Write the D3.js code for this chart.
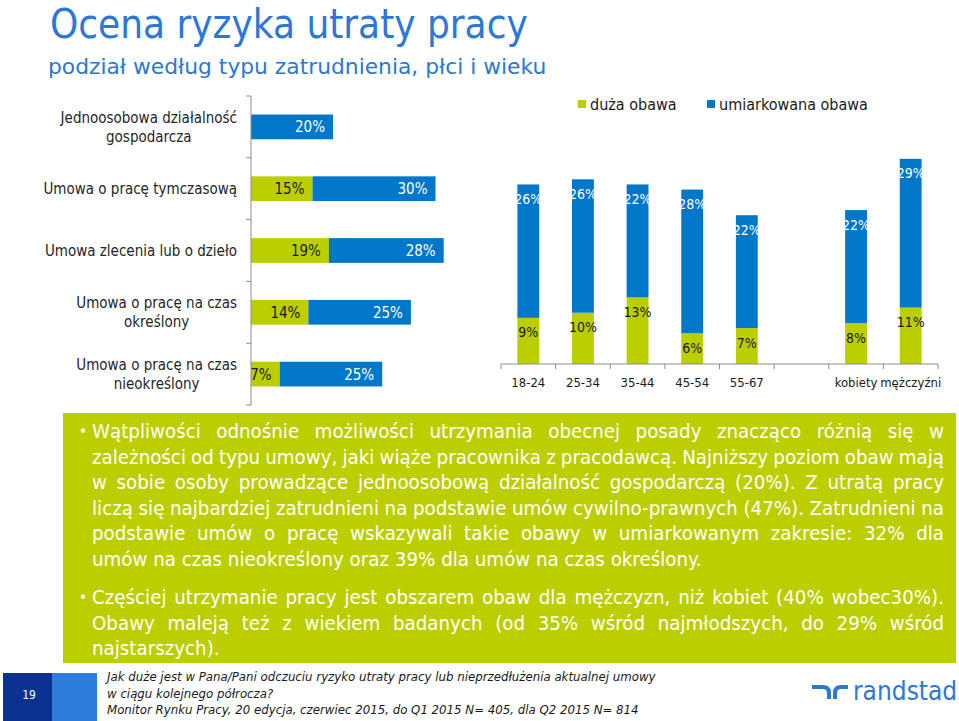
<!DOCTYPE html>
<html>
<head>
<meta charset="utf-8">
<script src="https://cdn.jsdelivr.net/npm/d3@7"></script>
<style>
  html, body { margin: 0; padding: 0; background: #fff; }
  svg { display: block; }
  text { font-family: "DejaVu Sans Condensed", "DejaVu Sans", sans-serif; font-stretch: condensed; }
  text.reg { font-family: "DejaVu Sans", sans-serif; font-stretch: normal; }
</style>
</head>
<body>
<svg id="chart" width="959" height="721"></svg>
<script>
// ---------- DATA ----------
const titleText = "Ocena ryzyka utraty pracy";
const subtitleText = "podział według typu zatrudnienia, płci i wieku";
const seriesNames = ["duża obawa", "umiarkowana obawa"];

const contractCats = [
  "Jednoosobowa działalność\ngospodarcza",
  "Umowa o pracę tymczasową",
  "Umowa zlecenia lub o dzieło",
  "Umowa o pracę na czas\nokreślony",
  "Umowa o pracę na czas\nnieokreślony"
];
const contractHigh = [0, 15, 19, 14, 7];
const contractModerate = [20, 30, 28, 25, 25];

const groupCats = ["18-24", "25-34", "35-44", "45-54", "55-67", " ", "kobiety", "mężczyźni"];
const groupHigh = [9, 10, 13, 6, 7, null, 8, 11];
const groupModerate = [26, 26, 22, 28, 22, null, 22, 29];

const paragraphs = [
  [
    "Wątpliwości odnośnie możliwości utrzymania obecnej posady znacząco różnią się w",
    "zależności od typu umowy, jaki wiąże pracownika z pracodawcą. Najniższy poziom obaw mają",
    "w sobie osoby prowadzące jednoosobową działalność gospodarczą (20%). Z utratą pracy",
    "liczą się najbardziej zatrudnieni na podstawie umów cywilno-prawnych (47%). Zatrudnieni na",
    "podstawie umów o pracę wskazywali takie obawy w umiarkowanym zakresie: 32% dla",
    "umów na czas nieokreślony oraz 39% dla umów na czas określony."
  ],
  [
    "Częściej utrzymanie pracy jest obszarem obaw dla mężczyzn, niż kobiet (40% wobec30%).",
    "Obawy maleją też z wiekiem badanych (od 35% wśród najmłodszych, do 29% wśród",
    "najstarszych)."
  ]
];
const footnoteLines = [
  "Jak duże jest w Pana/Pani odczuciu ryzyko utraty pracy lub nieprzedłużenia aktualnej umowy",
  "w ciągu kolejnego półrocza?",
  "Monitor Rynku Pracy, 20 edycja, czerwiec 2015, do Q1 2015 N= 405, dla Q2 2015 N= 814"
];
const pageNumber = "19";
const brandName = "randstad";

// ---------- STYLE ----------
const GREEN = "#BBCE00";
const BLUE = "#0077C8";
const TITLE_BLUE = "#2B78D6";
const AXIS = "#8C8C8C";

const svg = d3.select("#chart");

// Title
svg.append("text").attr("x", 50).attr("y", 38)
  .attr("fill", TITLE_BLUE).attr("font-size", 40).text(titleText);
svg.append("text").attr("class", "reg").attr("x", 48).attr("y", 74)
  .attr("fill", TITLE_BLUE).attr("font-size", 21.8).text(subtitleText);

// ---------- LEFT: horizontal stacked bars ----------
const yL = d3.scaleBand().domain(contractCats).range([96, 405]).paddingInner(0.6).paddingOuter(0.3);
const xL = d3.scaleLinear().domain([0, 50]).range([251, 456]);
const gL = svg.append("g");

contractCats.forEach((c, i) => {
  const y0 = yL(c), h = yL.bandwidth();
  const hi = contractHigh[i], mo = contractModerate[i];
  if (hi > 0) {
    gL.append("rect").attr("x", xL(0)).attr("y", y0).attr("width", xL(hi) - xL(0)).attr("height", h).attr("fill", GREEN);
    gL.append("text").attr("x", xL(hi) - 8).attr("y", y0 + h / 2).attr("dy", "0.36em")
      .attr("text-anchor", "end").attr("font-size", 15).attr("fill", "#1a1a1a").text(hi + "%");
  }
  gL.append("rect").attr("x", xL(hi)).attr("y", y0).attr("width", xL(hi + mo) - xL(hi)).attr("height", h).attr("fill", BLUE);
  gL.append("text").attr("x", xL(hi + mo) - 8).attr("y", y0 + h / 2).attr("dy", "0.36em")
    .attr("text-anchor", "end").attr("font-size", 15).attr("fill", "#fff").text(mo + "%");

  // category label (lines centred, block right-aligned)
  const lines = c.split("\n");
  const lg = gL.append("g");
  const texts = lines.map((ln, k) => lg.append("text")
    .attr("y", y0 + h / 2 + (k - (lines.length - 1) / 2) * 19).attr("dy", "0.36em")
    .attr("text-anchor", "middle").attr("font-size", 15).attr("fill", "#262626").text(ln));
  const maxW = d3.max(texts, t => t.node().getComputedTextLength());
  texts.forEach(t => t.attr("x", 237 - maxW / 2));
});
// axis
const r0 = yL.range()[0], stepL = yL.step();
gL.append("line").attr("x1", xL(0)).attr("x2", xL(0)).attr("y1", r0).attr("y2", r0 + stepL * contractCats.length).attr("stroke", AXIS);
d3.range(contractCats.length + 1).forEach(i => {
  gL.append("line").attr("x1", xL(0) - 5).attr("x2", xL(0)).attr("y1", r0 + i * stepL).attr("y2", r0 + i * stepL).attr("stroke", AXIS);
});

// ---------- RIGHT: vertical stacked columns ----------
const xR = d3.scaleBand().domain(groupCats).range([501, 938]).paddingInner(0.6).paddingOuter(0.3);
const yR = d3.scaleLinear().domain([0, 45]).range([364, 364 - 45 * 5.13]);
const gR = svg.append("g");
groupCats.forEach((c, i) => {
  const hi = groupHigh[i], mo = groupModerate[i];
  if (hi == null) return;
  const x0 = xR(c), w = xR.bandwidth(), cx = x0 + w / 2;
  gR.append("rect").attr("x", x0).attr("y", yR(hi)).attr("width", w).attr("height", yR(0) - yR(hi)).attr("fill", GREEN);
  gR.append("rect").attr("x", x0).attr("y", yR(hi + mo)).attr("width", w).attr("height", yR(hi) - yR(hi + mo)).attr("fill", BLUE);
  gR.append("text").attr("x", cx).attr("y", yR(hi) + 14.5).attr("dy", "0.36em").attr("text-anchor", "middle")
    .attr("font-size", 14).attr("fill", "#1a1a1a").text(hi + "%");
  gR.append("text").attr("x", cx).attr("y", yR(hi + mo) + 14.5).attr("dy", "0.36em").attr("text-anchor", "middle")
    .attr("font-size", 14).attr("fill", "#fff").text(mo + "%");
});
const c0 = xR.range()[0], stepR = xR.step();
gR.append("line").attr("x1", c0).attr("x2", c0 + stepR * groupCats.length).attr("y1", yR(0)).attr("y2", yR(0)).attr("stroke", AXIS);
d3.range(groupCats.length + 1).forEach(i => {
  gR.append("line").attr("x1", c0 + i * stepR).attr("x2", c0 + i * stepR).attr("y1", yR(0)).attr("y2", yR(0) + 5).attr("stroke", AXIS);
});
groupCats.forEach(c => {
  gR.append("text").attr("x", xR(c) + xR.bandwidth() / 2).attr("y", 382).attr("dy", "0.36em")
    .attr("text-anchor", "middle").attr("font-size", 13).attr("fill", "#1a1a1a").text(c.trim());
});

// legend
const legendPos = [578, 707];
seriesNames.forEach((n, i) => {
  svg.append("rect").attr("x", legendPos[i]).attr("y", 100).attr("width", 8).attr("height", 8).attr("fill", i === 0 ? GREEN : BLUE);
  svg.append("text").attr("x", legendPos[i] + 12).attr("y", 104).attr("dy", "0.36em")
    .attr("font-size", 16).attr("fill", "#1a1a1a").text(n);
});

// ---------- TEXT BOX ----------
svg.append("rect").attr("x", 63).attr("y", 413).attr("width", 893).attr("height", 250).attr("fill", GREEN);
const tx0 = 92, tx1 = 944, lh = 25.5;
let by = 438;
paragraphs.forEach((para, pi) => {
  svg.append("text").attr("x", 79).attr("y", by - 1).attr("font-size", 15).attr("fill", "#fff").text("•");
  para.forEach((ln, li) => {
    const t = svg.append("text").attr("x", tx0).attr("y", by).attr("font-size", 20.3).attr("fill", "#fff").text(ln);
    if (li < para.length - 1) {
      const nat = t.node().getComputedTextLength();
      const spaces = (ln.match(/ /g) || []).length;
      t.style("word-spacing", ((tx1 - tx0 - nat) / spaces) + "px");
    }
    by += lh;
  });
  by += 13;
});

// ---------- FOOTER ----------
svg.append("rect").attr("x", 3).attr("y", 673).attr("width", 49).attr("height", 48).attr("fill", "#0D3191");
svg.append("rect").attr("x", 52).attr("y", 673).attr("width", 45).attr("height", 48).attr("fill", "#2D7EDC");
svg.append("text").attr("x", 29).attr("y", 695).attr("dy", "0.36em").attr("text-anchor", "middle")
  .attr("font-size", 12).attr("fill", "#fff").text(pageNumber);
footnoteLines.forEach((ln, i) => {
  svg.append("text").attr("x", 107).attr("y", 681 + i * 16.5).attr("font-size", 13.1)
    .attr("font-style", "italic").attr("fill", "#1a1a1a").text(ln);
});
// logo
const logo = svg.append("g").attr("fill", "none").attr("stroke", TITLE_BLUE).attr("stroke-width", 4);
logo.append("path").attr("d", "M812,687 H823 Q829,687 829,693 V699");
logo.append("path").attr("d", "M835,699 V693 Q835,687 841,687 H848");
svg.append("text").attr("x", 853).attr("y", 700).attr("font-size", 26).attr("fill", TITLE_BLUE).text(brandName);
</script>
</body>
</html>
